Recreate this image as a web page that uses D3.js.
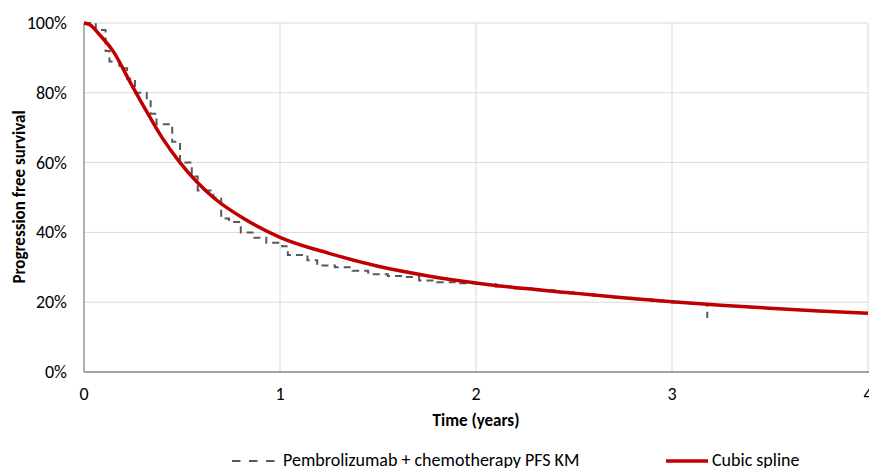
<!DOCTYPE html>
<html><head><meta charset="utf-8">
<script src="https://cdn.jsdelivr.net/npm/d3@7/dist/d3.min.js"></script>
<style>
html,body{margin:0;padding:0;background:#fff;overflow:hidden;}
text{font-family:Carlito,Calibri,"Liberation Sans Narrow","Liberation Sans",Arial,sans-serif;fill:#000;}
</style></head>
<body>
<svg id="chart" width="869" height="468"></svg>
<script>
// Kaplan-Meier (step) data
const kmTime = [0, 0.06, 0.11, 0.13, 0.18, 0.22, 0.26, 0.32, 0.34, 0.37, 0.45, 0.49, 0.55, 0.58, 0.66, 0.70, 0.74, 0.80, 0.86, 0.93, 1.01, 1.04, 1.14, 1.19, 1.28, 1.37, 1.45, 1.55, 1.63, 1.71, 1.80, 1.92, 2.0, 2.1, 2.2, 2.3, 2.4, 2.5, 2.6, 2.7, 2.8, 2.9, 3.0, 3.1];
const kmSurv = [1.00, 0.98, 0.92, 0.89, 0.87, 0.84, 0.80, 0.78, 0.74, 0.71, 0.66, 0.60, 0.56, 0.52, 0.50, 0.44, 0.43, 0.40, 0.385, 0.37, 0.36, 0.335, 0.32, 0.305, 0.30, 0.29, 0.28, 0.275, 0.272, 0.262, 0.257, 0.254, 0.252, 0.245, 0.239, 0.234, 0.2285, 0.2235, 0.218, 0.213, 0.208, 0.203, 0.199, 0.195];
const kmEnd = {t: 3.18, s: 0.155};
// Cubic spline fit
const splTime = [0, 0.03, 0.08, 0.15, 0.234, 0.32, 0.40, 0.49, 0.66, 0.83, 1.0, 1.25, 1.5, 1.75, 2.0, 2.25, 2.5, 2.75, 3.0, 3.25, 3.5, 3.75, 4.0];
const splSurv = [1.0, 0.995, 0.966, 0.918, 0.832, 0.746, 0.67, 0.60, 0.50, 0.435, 0.386, 0.34, 0.303, 0.276, 0.255, 0.239, 0.226, 0.213, 0.201, 0.191, 0.183, 0.175, 0.168];
const xTicks = [0, 1, 2, 3, 4];
const yTicks = [0, 0.2, 0.4, 0.6, 0.8, 1.0];
const legendLabels = ["Pembrolizumab + chemotherapy PFS KM", "Cubic spline"];
const xTitle = "Time (years)";
const yTitle = "Progression free survival";

const svg = d3.select("#chart");
const L = 84, R = 868, T = 23, B = 372;
const x = d3.scaleLinear().domain([0, 4]).range([L, R]);
const y = d3.scaleLinear().domain([0, 1]).range([B, T]);

// gridlines
svg.append("g").selectAll("line").data(yTicks.filter(d => d > 0)).join("line")
  .attr("x1", L).attr("x2", R).attr("y1", d => y(d)).attr("y2", d => y(d))
  .attr("stroke", "#d9d9d9").attr("stroke-width", 1);
svg.append("g").selectAll("line").data(xTicks.filter(d => d > 0)).join("line")
  .attr("x1", d => x(d)).attr("x2", d => x(d)).attr("y1", T).attr("y2", B)
  .attr("stroke", "#d9d9d9").attr("stroke-width", 1);

// axes lines
svg.append("line").attr("x1", L).attr("x2", L).attr("y1", T).attr("y2", B).attr("stroke", "#868686").attr("stroke-width", 1.3);
svg.append("line").attr("x1", L).attr("x2", R + 1).attr("y1", B).attr("y2", B).attr("stroke", "#868686").attr("stroke-width", 1.3);

// tick labels
svg.append("g").selectAll("text").data(yTicks).join("text")
  .attr("x", 67).attr("y", d => y(d) + 6).attr("text-anchor", "end")
  .attr("font-size", 18).text(d => d3.format(".0%")(d));
svg.append("g").selectAll("text").data(xTicks).join("text")
  .attr("x", d => x(d)).attr("y", 400).attr("text-anchor", "middle")
  .attr("font-size", 18).text(d => d);

// axis titles
svg.append("text").attr("x", 476).attr("y", 426).attr("text-anchor", "middle")
  .attr("font-size", 17).attr("font-weight", "bold").text(xTitle);
svg.append("text").attr("transform", `translate(25,197) rotate(-90)`).attr("text-anchor", "middle")
  .attr("font-size", 17).attr("font-weight", "bold").text(yTitle);

// KM step line
const kmPts = kmTime.map((t, i) => [t, kmSurv[i]]);
kmPts.push([kmEnd.t, kmEnd.s]);
const kmLine = d3.line().x(d => x(d[0])).y(d => y(d[1])).curve(d3.curveStepAfter);
svg.append("path").datum(kmPts).attr("d", kmLine)
  .attr("fill", "none").attr("stroke", "#595959").attr("stroke-width", 2)
  .attr("stroke-dasharray", "7,5");

// spline
const splPts = splTime.map((t, i) => [t, splSurv[i]]);
const splLine = d3.line().x(d => x(d[0])).y(d => y(d[1])).curve(d3.curveMonotoneX);
svg.append("path").datum(splPts).attr("d", splLine)
  .attr("fill", "none").attr("stroke", "#c00000").attr("stroke-width", 3.5);

// legend
const lg = svg.append("g");
lg.append("line").attr("x1", 232).attr("x2", 276).attr("y1", 461).attr("y2", 461)
  .attr("stroke", "#595959").attr("stroke-width", 2).attr("stroke-dasharray", "8.5,8.5");
lg.append("text").attr("x", 283).attr("y", 466).attr("font-size", 18).text(legendLabels[0]);
lg.append("line").attr("x1", 666).attr("x2", 708).attr("y1", 461).attr("y2", 461)
  .attr("stroke", "#c00000").attr("stroke-width", 3.5);
lg.append("text").attr("x", 712).attr("y", 466).attr("font-size", 18).text(legendLabels[1]);
</script>
</body></html>
